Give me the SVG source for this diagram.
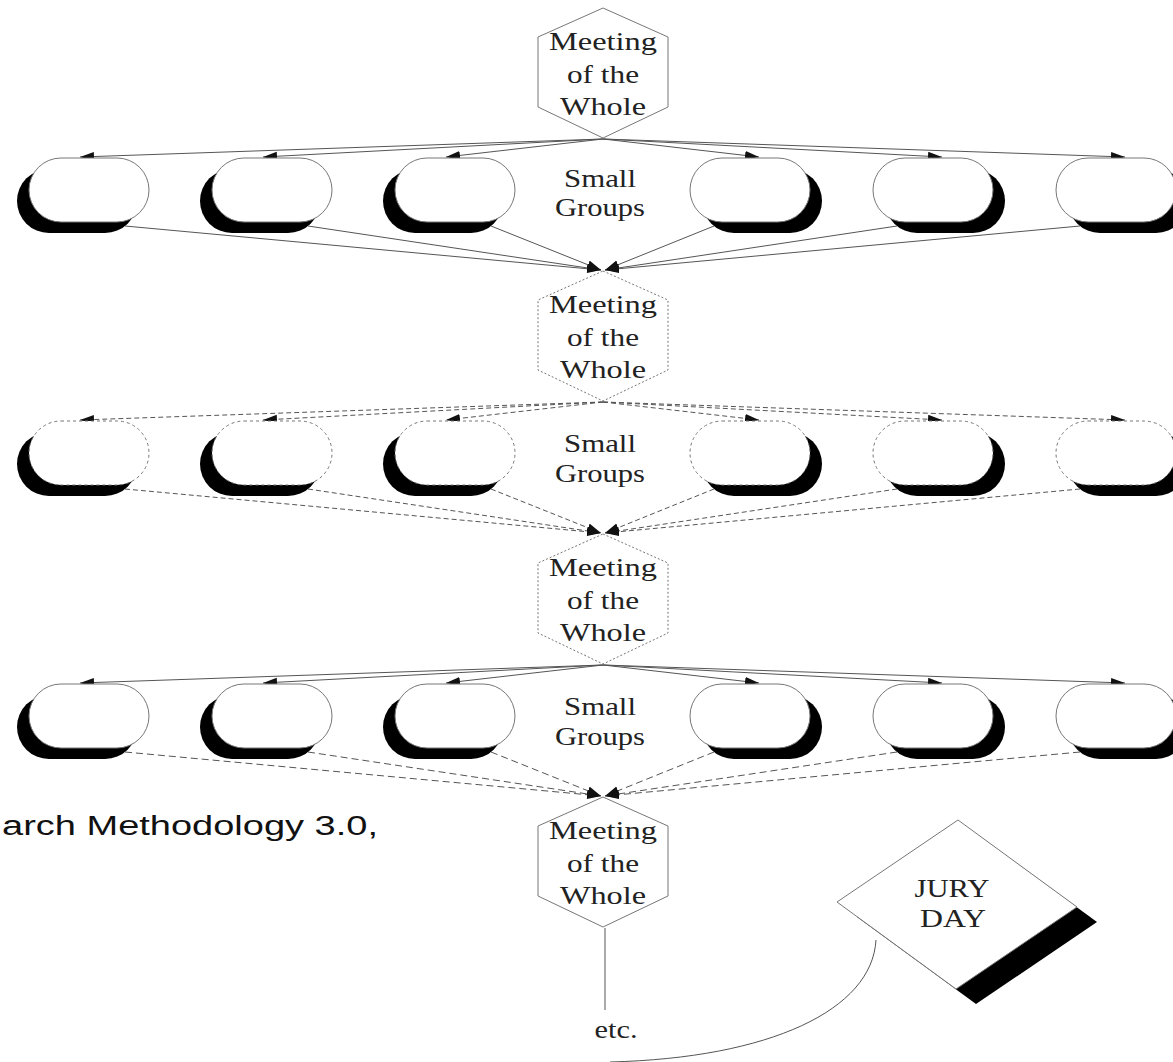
<svg xmlns="http://www.w3.org/2000/svg" width="1173" height="1062" viewBox="0 0 1173 1062">
<style>
.bg{fill:#fff}
.hex{fill:#fff;stroke:#777;stroke-width:1}
.dot{stroke-dasharray:2 2}
.ov{fill:#fff;stroke:#777;stroke-width:1}
.ovd{stroke-dasharray:3 3}
.sh{fill:#000}
.t{font-family:"Liberation Serif","Times New Roman",serif;font-size:26px;fill:#222;text-anchor:middle}
.s{font-family:"Liberation Sans",Arial,sans-serif;font-size:27px;fill:#111}
.c{fill:none;stroke:#555;stroke-width:1}
.d1{stroke-dasharray:5 3}
.d2{stroke-dasharray:7 4}
.jb{fill:#fff;stroke:#777;stroke-width:1;stroke-linejoin:round}
</style>
<defs>
<marker id="arr" markerUnits="userSpaceOnUse" markerWidth="15" markerHeight="10" refX="14" refY="4.5" orient="auto">
<path d="M0,0 L14,4.5 L0,9 z" fill="#111"/>
</marker>
</defs>
<rect class="bg" x="0" y="0" width="1173" height="1062"/>

<g id="connectors">
<g class="c">
<line x1="603" y1="139" x2="80" y2="157" marker-end="url(#arr)"/>
<line x1="603" y1="139" x2="263" y2="157" marker-end="url(#arr)"/>
<line x1="603" y1="139" x2="446" y2="157" marker-end="url(#arr)"/>
<line x1="603" y1="139" x2="759" y2="157" marker-end="url(#arr)"/>
<line x1="603" y1="139" x2="942" y2="157" marker-end="url(#arr)"/>
<line x1="603" y1="139" x2="1125" y2="157" marker-end="url(#arr)"/>
<line x1="125" y1="226" x2="601" y2="270" marker-end="url(#arr)"/>
<line x1="308" y1="226" x2="601" y2="270" marker-end="url(#arr)"/>
<line x1="491" y1="226" x2="601" y2="270" marker-end="url(#arr)"/>
<line x1="714" y1="226" x2="605" y2="270" marker-end="url(#arr)"/>
<line x1="897" y1="226" x2="605" y2="270" marker-end="url(#arr)"/>
<line x1="1080" y1="226" x2="605" y2="270" marker-end="url(#arr)"/>
</g>
<g class="c d1">
<line x1="603" y1="402" x2="80" y2="420" marker-end="url(#arr)"/>
<line x1="603" y1="402" x2="263" y2="420" marker-end="url(#arr)"/>
<line x1="603" y1="402" x2="446" y2="420" marker-end="url(#arr)"/>
<line x1="603" y1="402" x2="759" y2="420" marker-end="url(#arr)"/>
<line x1="603" y1="402" x2="942" y2="420" marker-end="url(#arr)"/>
<line x1="603" y1="402" x2="1125" y2="420" marker-end="url(#arr)"/>
<line x1="125" y1="489" x2="601" y2="533" marker-end="url(#arr)"/>
<line x1="308" y1="489" x2="601" y2="533" marker-end="url(#arr)"/>
<line x1="491" y1="489" x2="601" y2="533" marker-end="url(#arr)"/>
<line x1="714" y1="489" x2="605" y2="533" marker-end="url(#arr)"/>
<line x1="897" y1="489" x2="605" y2="533" marker-end="url(#arr)"/>
<line x1="1080" y1="489" x2="605" y2="533" marker-end="url(#arr)"/>
</g>
<g class="c">
<line x1="603" y1="665" x2="80" y2="683" marker-end="url(#arr)"/>
<line x1="603" y1="665" x2="263" y2="683" marker-end="url(#arr)"/>
<line x1="603" y1="665" x2="446" y2="683" marker-end="url(#arr)"/>
<line x1="603" y1="665" x2="759" y2="683" marker-end="url(#arr)"/>
<line x1="603" y1="665" x2="942" y2="683" marker-end="url(#arr)"/>
<line x1="603" y1="665" x2="1125" y2="683" marker-end="url(#arr)"/>
</g>
<g class="c d2">
<line x1="125" y1="752" x2="601" y2="796" marker-end="url(#arr)"/>
<line x1="308" y1="752" x2="601" y2="796" marker-end="url(#arr)"/>
<line x1="491" y1="752" x2="601" y2="796" marker-end="url(#arr)"/>
<line x1="714" y1="752" x2="605" y2="796" marker-end="url(#arr)"/>
<line x1="897" y1="752" x2="605" y2="796" marker-end="url(#arr)"/>
<line x1="1080" y1="752" x2="605" y2="796" marker-end="url(#arr)"/>
</g>
<line class="c" x1="605" y1="928" x2="605" y2="1010"/>
<path class="c" d="M876,940 C872,1010 770,1058 610,1062"/>
</g>

<g id="meeting1">
<polygon class="hex" points="603,8 668,37 668,107 603,138 538,107 538,37"/>
<text class="t" x="603" y="50" textLength="108" lengthAdjust="spacingAndGlyphs">Meeting</text>
<text class="t" x="603" y="83" textLength="72" lengthAdjust="spacingAndGlyphs">of the</text>
<text class="t" x="603" y="115" textLength="86" lengthAdjust="spacingAndGlyphs">Whole</text>
</g>
<g id="meeting2">
<polygon class="hex dot" points="603,271 668,300 668,370 603,401 538,370 538,300"/>
<text class="t" x="603" y="313" textLength="108" lengthAdjust="spacingAndGlyphs">Meeting</text>
<text class="t" x="603" y="346" textLength="72" lengthAdjust="spacingAndGlyphs">of the</text>
<text class="t" x="603" y="378" textLength="86" lengthAdjust="spacingAndGlyphs">Whole</text>
</g>
<g id="meeting3">
<polygon class="hex dot" points="603,534 668,563 668,633 603,664 538,633 538,563"/>
<text class="t" x="603" y="576" textLength="108" lengthAdjust="spacingAndGlyphs">Meeting</text>
<text class="t" x="603" y="609" textLength="72" lengthAdjust="spacingAndGlyphs">of the</text>
<text class="t" x="603" y="641" textLength="86" lengthAdjust="spacingAndGlyphs">Whole</text>
</g>
<g id="meeting4">
<polygon class="hex" points="603,797 668,826 668,896 603,927 538,896 538,826"/>
<text class="t" x="603" y="839" textLength="108" lengthAdjust="spacingAndGlyphs">Meeting</text>
<text class="t" x="603" y="872" textLength="72" lengthAdjust="spacingAndGlyphs">of the</text>
<text class="t" x="603" y="904" textLength="86" lengthAdjust="spacingAndGlyphs">Whole</text>
</g>

<g id="groups1">
<g id="g1-1"><rect class="sh" x="17" y="169" width="120" height="64" rx="32"/><rect class="ov" x="29" y="158" width="120" height="64" rx="32"/></g>
<g id="g1-2"><rect class="sh" x="200" y="169" width="120" height="64" rx="32"/><rect class="ov" x="212" y="158" width="120" height="64" rx="32"/></g>
<g id="g1-3"><rect class="sh" x="383" y="169" width="120" height="64" rx="32"/><rect class="ov" x="395" y="158" width="120" height="64" rx="32"/></g>
<g id="g1-4"><rect class="sh" x="702" y="169" width="120" height="64" rx="32"/><rect class="ov" x="690" y="158" width="120" height="64" rx="32"/></g>
<g id="g1-5"><rect class="sh" x="885" y="169" width="120" height="64" rx="32"/><rect class="ov" x="873" y="158" width="120" height="64" rx="32"/></g>
<g id="g1-6"><rect class="sh" x="1068" y="169" width="120" height="64" rx="32"/><rect class="ov" x="1056" y="158" width="120" height="64" rx="32"/></g>
<text class="t" x="600" y="187" textLength="72" lengthAdjust="spacingAndGlyphs">Small</text>
<text class="t" x="600" y="216" textLength="90" lengthAdjust="spacingAndGlyphs">Groups</text>
</g>
<g id="groups2">
<g id="g2-1"><rect class="sh" x="17" y="432" width="120" height="64" rx="32"/><rect class="ov ovd" x="29" y="421" width="120" height="64" rx="32"/></g>
<g id="g2-2"><rect class="sh" x="200" y="432" width="120" height="64" rx="32"/><rect class="ov ovd" x="212" y="421" width="120" height="64" rx="32"/></g>
<g id="g2-3"><rect class="sh" x="383" y="432" width="120" height="64" rx="32"/><rect class="ov ovd" x="395" y="421" width="120" height="64" rx="32"/></g>
<g id="g2-4"><rect class="sh" x="702" y="432" width="120" height="64" rx="32"/><rect class="ov ovd" x="690" y="421" width="120" height="64" rx="32"/></g>
<g id="g2-5"><rect class="sh" x="885" y="432" width="120" height="64" rx="32"/><rect class="ov ovd" x="873" y="421" width="120" height="64" rx="32"/></g>
<g id="g2-6"><rect class="sh" x="1068" y="432" width="120" height="64" rx="32"/><rect class="ov ovd" x="1056" y="421" width="120" height="64" rx="32"/></g>
<text class="t" x="600" y="452" textLength="72" lengthAdjust="spacingAndGlyphs">Small</text>
<text class="t" x="600" y="482" textLength="90" lengthAdjust="spacingAndGlyphs">Groups</text>
</g>
<g id="groups3">
<g id="g3-1"><rect class="sh" x="17" y="695" width="120" height="64" rx="32"/><rect class="ov" x="29" y="684" width="120" height="64" rx="32"/></g>
<g id="g3-2"><rect class="sh" x="200" y="695" width="120" height="64" rx="32"/><rect class="ov" x="212" y="684" width="120" height="64" rx="32"/></g>
<g id="g3-3"><rect class="sh" x="383" y="695" width="120" height="64" rx="32"/><rect class="ov" x="395" y="684" width="120" height="64" rx="32"/></g>
<g id="g3-4"><rect class="sh" x="702" y="695" width="120" height="64" rx="32"/><rect class="ov" x="690" y="684" width="120" height="64" rx="32"/></g>
<g id="g3-5"><rect class="sh" x="885" y="695" width="120" height="64" rx="32"/><rect class="ov" x="873" y="684" width="120" height="64" rx="32"/></g>
<g id="g3-6"><rect class="sh" x="1068" y="695" width="120" height="64" rx="32"/><rect class="ov" x="1056" y="684" width="120" height="64" rx="32"/></g>
<text class="t" x="600" y="715" textLength="72" lengthAdjust="spacingAndGlyphs">Small</text>
<text class="t" x="600" y="745" textLength="90" lengthAdjust="spacingAndGlyphs">Groups</text>
</g>

<g id="juryday">
<polygon class="sh" points="978,835 1097,922 976,1004 857,917"/>
<polygon class="jb" points="958,820 1077,907 956,989 837,902"/>
<text class="t" x="952" y="897" textLength="75" lengthAdjust="spacingAndGlyphs">JURY</text>
<text class="t" x="953" y="927" textLength="66" lengthAdjust="spacingAndGlyphs">DAY</text>
</g>

<g id="etc">
<text class="t" x="616" y="1038" textLength="43" lengthAdjust="spacingAndGlyphs">etc.</text>
</g>

<text class="s" x="2" y="835" textLength="376" lengthAdjust="spacingAndGlyphs">arch Methodology 3.0,</text>
</svg>
